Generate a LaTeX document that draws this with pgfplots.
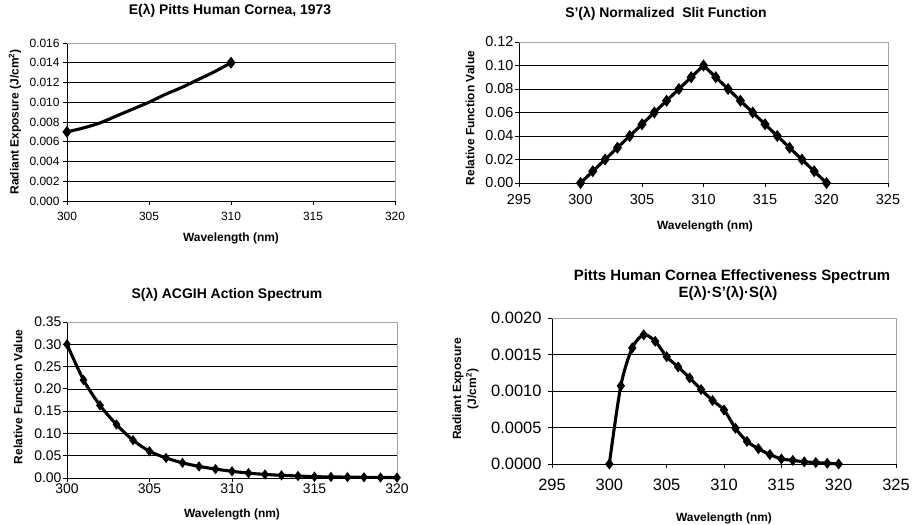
\documentclass[border=0pt]{standalone}
\usepackage{pgfplots}
\pgfplotsset{compat=1.18}
\usepackage{fontspec}
\setmainfont{Liberation Sans}
\newcommand{\fs}[1]{\fontsize{#1}{#1}\selectfont}
\pgfplotsset{
 panel/.style={
  scale only axis, enlargelimits=false, clip=false,
  scaled y ticks=false, scaled x ticks=false,
  axis lines*=left, axis line style={-, black, line width=0.8bp},
  ymajorgrids, grid style={black, line width=0.6bp},
  tick align=outside, major tick length=4bp, tick style={black, line width=0.8bp},
  xtick pos=left, ytick pos=left,
  label style={font=\fs{12}\bfseries},
 },
 curve/.style={black, line width=3.1bp, mark=diamond*, mark size=3.5bp, mark options={solid, fill=black}},
}
\begin{document}
\begin{tikzpicture}
\path[use as bounding box] (0,0) rectangle (916bp,525bp);
% ---------------- Panel 1
\begin{axis}[panel, at={(67bp,324bp)}, anchor=south west, width=328bp, height=158bp,
  xmin=300, xmax=320, ymin=0, ymax=0.016,
  xtick={300,305,310,315,320}, xticklabels={300,305,310,315,320},
  ytick={0,0.002,0.004,0.006,0.008,0.010,0.012,0.014,0.016},
  yticklabels={0.000,0.002,0.004,0.006,0.008,0.010,0.012,0.014,0.016},
  ticklabel style={font=\fs{12}},
  xticklabel style={yshift=-4bp},
  xlabel={Wavelength (nm)}, xlabel style={at={(axis description cs:0.5,-0.2595)}, anchor=base},
  ylabel={Radiant Exposure (J/cm\textsuperscript{2})}, ylabel style={at={(axis description cs:-0.1585,0.5)}, anchor=center},
]
\addplot[curve, smooth, mark indices={1,11}] coordinates {
(300,0.0070) (301,0.0074) (302,0.0079) (303,0.0086) (304,0.0093) (305,0.0100)
(306,0.0108) (307,0.0115) (308,0.0123) (309,0.0131) (310,0.0140)};
\draw[gray!70, line width=0.8bp] (rel axis cs:0,1) -- (rel axis cs:1,1) -- (rel axis cs:1,0);
\end{axis}
\node[font=\fs{14}\bfseries, anchor=base] at (230bp,510bp) {E(λ) Pitts Human Cornea, 1973};
% ---------------- Panel 2
\begin{axis}[panel, at={(519bp,342bp)}, anchor=south west, width=369bp, height=141bp,
  xmin=295, xmax=325, ymin=0, ymax=0.12,
  xtick={295,300,305,310,315,320,325}, xticklabels={295,300,305,310,315,320,325},
  ytick={0,0.02,0.04,0.06,0.08,0.10,0.12},
  yticklabels={0.00,0.02,0.04,0.06,0.08,0.10,0.12},
  ticklabel style={font=\fs{14.5}},
  xticklabel style={yshift=-4bp}, yticklabel style={xshift=2bp},
  xlabel={Wavelength (nm)}, xlabel style={at={(axis description cs:0.504,-0.333)}, anchor=base},
  ylabel={Relative Function Value}, ylabel style={at={(axis description cs:-0.1328,0.461)}, anchor=center},
]
\addplot[curve] coordinates {
(300,0) (301,0.01) (302,0.02) (303,0.03) (304,0.04) (305,0.05) (306,0.06) (307,0.07)
(308,0.08) (309,0.09) (310,0.10) (311,0.09) (312,0.08) (313,0.07) (314,0.06) (315,0.05)
(316,0.04) (317,0.03) (318,0.02) (319,0.01) (320,0)};
\draw[gray!70, line width=0.8bp] (rel axis cs:0,1) -- (rel axis cs:1,1) -- (rel axis cs:1,0);
\end{axis}
\node[font=\fs{14}\bfseries, anchor=base] at (666bp,507bp) {S'(λ) Normalized\ \ Slit Function};
% ---------------- Panel 3
\begin{axis}[panel, at={(67bp,47bp)}, anchor=south west, width=330bp, height=156bp,
  xmin=300, xmax=320, ymin=0, ymax=0.35,
  xtick={300,305,310,315,320}, xticklabels={300,305,310,315,320},
  ytick={0,0.05,0.10,0.15,0.20,0.25,0.30,0.35},
  yticklabels={0.00,0.05,0.10,0.15,0.20,0.25,0.30,0.35},
  ticklabel style={font=\fs{14}},
  xticklabel style={yshift=2bp}, yticklabel style={xshift=2bp},
  xlabel={Wavelength (nm)}, xlabel style={at={(axis description cs:0.5,-0.256)}, anchor=base},
  ylabel={Relative Function Value}, ylabel style={at={(axis description cs:-0.1485,0.519)}, anchor=center},
]
\addplot[curve, smooth, mark size=2.6bp] coordinates {
(300,0.300) (301,0.220) (302,0.163) (303,0.120) (304,0.085) (305,0.060) (306,0.045)
(307,0.034) (308,0.026) (309,0.020) (310,0.015) (311,0.011) (312,0.008) (313,0.006)
(314,0.0045) (315,0.003) (316,0.0024) (317,0.0020) (318,0.0016) (319,0.0012) (320,0.0010)};
\draw[gray!70, line width=0.8bp] (rel axis cs:0,1) -- (rel axis cs:1,1) -- (rel axis cs:1,0);
\end{axis}
\node[font=\fs{14}\bfseries, anchor=base] at (227bp,226bp) {S(λ) ACGIH Action Spectrum};
% ---------------- Panel 4
\begin{axis}[panel, at={(552bp,61bp)}, anchor=south west, width=344bp, height=146bp,
  xmin=295, xmax=325, ymin=0, ymax=0.002,
  xtick={295,300,305,310,315,320,325}, xticklabels={295,300,305,310,315,320,325},
  ytick={0,0.0005,0.0010,0.0015,0.0020},
  yticklabels={0.0000,0.0005,0.0010,0.0015,0.0020},
  ticklabel style={font=\fs{16.5}},
  xticklabel style={yshift=-8bp}, yticklabel style={xshift=-3bp},
  xlabel={Wavelength (nm)}, xlabel style={at={(axis description cs:0.5,-0.397)}, anchor=base},
  ylabel={Radiant Exposure\\(J/cm\textsuperscript{2})},
  ylabel style={at={(axis description cs:-0.2515,0.514)}, anchor=center, align=center, font=\fontsize{12}{15}\selectfont\bfseries},
]
\addplot[curve, smooth, mark size=3bp] coordinates {
(300,0) (301,0.00107) (302,0.00159) (303,0.00177) (304,0.00168) (305,0.00147) (306,0.00133)
(307,0.00118) (308,0.00102) (309,0.00087) (310,0.00074) (311,0.00049) (312,0.00031) (313,0.00021)
(314,0.00013) (315,0.00007) (316,0.00005) (317,0.00003) (318,0.00002) (319,0.00001) (320,0)};
\draw[gray!70, line width=0.8bp] (rel axis cs:0,1) -- (rel axis cs:1,1) -- (rel axis cs:1,0);
\end{axis}
\node[font=\fs{15}\bfseries, anchor=base] at (732bp,244bp) {Pitts Human Cornea Effectiveness Spectrum};
\node[font=\fs{15}\bfseries, anchor=base] at (728bp,227bp) {E(λ)·S'(λ)·S(λ)};
\end{tikzpicture}
\end{document}
